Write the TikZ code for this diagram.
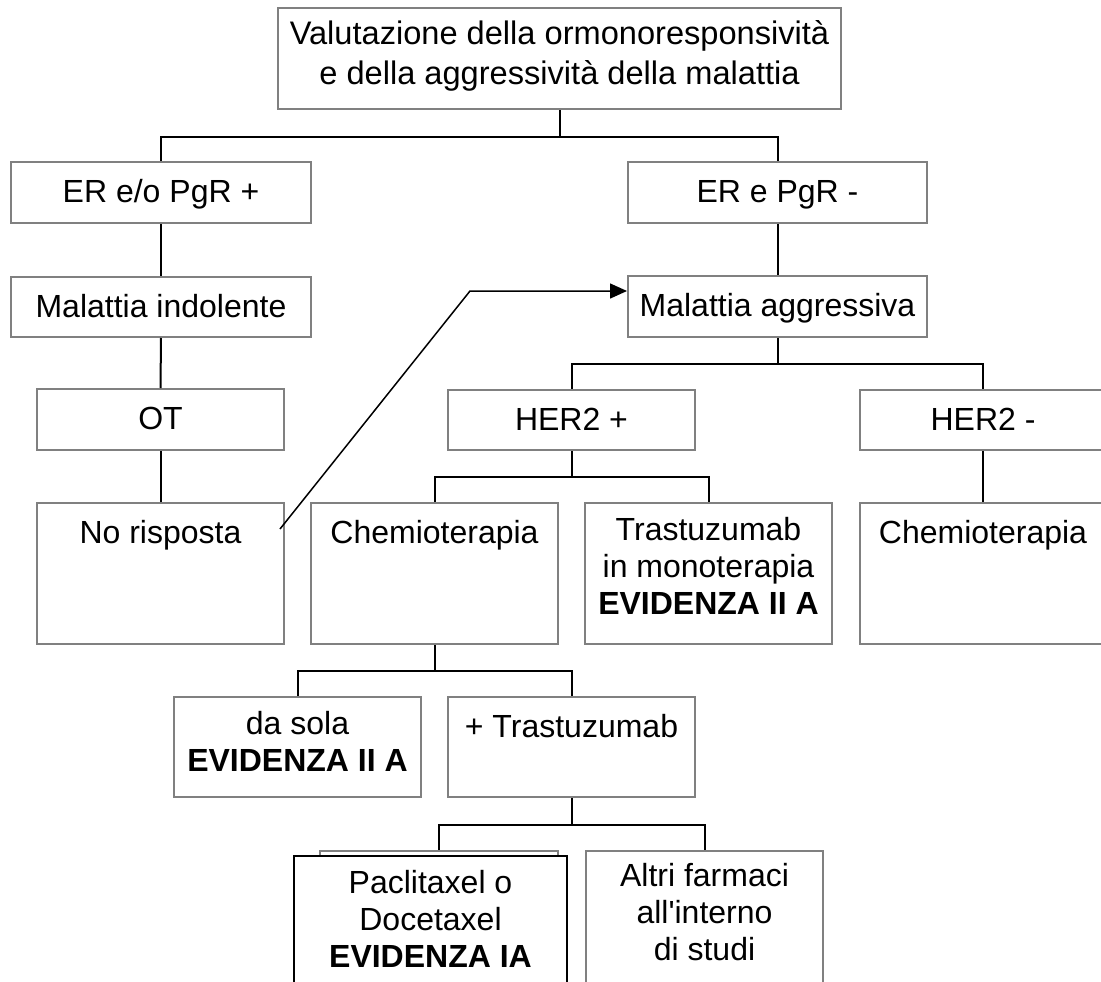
\documentclass[tikz,border=0pt]{standalone}
\usepackage{fontspec}
\newfontfamily\flowfont{Liberation Sans}
\usetikzlibrary{positioning,arrows.meta}
\definecolor{boxgray}{RGB}{128,128,128}

% box by corners: [options]{name}{left}{top}{right}{bottom}
\newcommand{\flowbox}[6][]{%
  \node[box,minimum width={#5-#3},minimum height={#6-#4},#1] (#2) at ({(#3+#5)/2},{(#4+#6)/2}) {};}
% text hanging from the top edge of a box: [gap]{box}{text}
\newcommand{\flowtext}[3][15pt]{%
  \node[txt,below=#1 of #2.north] (#2-t) {#3};}

\begin{document}
\begin{tikzpicture}[x=1pt,y=-1pt,
  box/.style={rectangle,draw=boxgray,line width=2pt,fill=white,inner sep=0pt},
  darkbox/.style={draw=black},
  txt/.style={inner sep=0pt,align=center,anchor=north,
    font=\flowfont\fontsize{32}{37}\selectfont,execute at begin node=\strut},
  headtxt/.style={font=\flowfont\fontsize{32.6}{40}\selectfont},
  wire/.style={draw=black,line width=2pt},
  jump/.style={draw=black,line width=1.5pt,-{Triangle[length=17pt,width=15pt]}},
]
\useasboundingbox (0,0) rectangle (1101,982);
\clip (0,0) rectangle (1101,982);
\fill[white] (0,0) rectangle (1101,982);

% boxes
\flowbox{top}{278}{8}{841}{109}
\flowbox{erp}{11}{162}{311}{223}
\flowbox{erm}{628}{162}{927}{223}
\flowbox{malind}{11}{277}{311}{337}
\flowbox{malagg}{628}{276}{927}{337}
\flowbox{ot}{37}{389}{284}{450}
\flowbox{norisp}{37}{503}{284}{644}
\flowbox{herp}{448}{390}{695}{450}
\flowbox{herm}{860}{390}{1106}{450}
\flowbox{chemioA}{311}{503}{558}{644}
\flowbox{trast}{585}{503}{832}{644}
\flowbox{chemioB}{860}{503}{1106}{644}
\flowbox{dasola}{174}{697}{421}{797}
\flowbox{plustrast}{448}{697}{695}{797}
\flowbox{pacliback}{320}{851}{558}{1000}
\flowbox[darkbox]{pacli}{294}{856}{567}{1005}
\flowbox{altri}{586}{851}{823}{1005}

% texts
\node[txt,headtxt,below=13pt of top.north] (top-t)
  {Valutazione della ormonoresponsività\\e della aggressività della malattia};
\flowtext{erp}{ER e/o PgR +}
\flowtext{erm}{ER e PgR -}
\flowtext{malind}{Malattia indolente}
\flowtext{malagg}{Malattia aggressiva}
\flowtext{ot}{OT}
\flowtext{norisp}{No risposta}
\flowtext{herp}{HER2 +}
\flowtext{herm}{HER2 -}
\flowtext{chemioA}{Chemioterapia}
\flowtext{trast}{Trastuzumab\\in monoterapia\\\textbf{EVIDENZA II A}}
\flowtext{chemioB}{Chemioterapia}
\flowtext{dasola}{da sola\\\textbf{EVIDENZA II A}}
\flowtext{plustrast}{+ Trastuzumab}
\flowtext[15.5pt]{pacli}{Paclitaxel o\\Docetaxel\\\textbf{EVIDENZA IA}}
\flowtext[13.5pt]{altri}{Altri farmaci\\all'interno\\di studi}

% tree connectors
\draw[wire] (top.south) -- ++(0,27) -| (erp.north);
\draw[wire] (top.south) -- ++(0,27) -| (erm.north);
\draw[wire] (erp.south) -- (malind.north);
\draw[wire] (malind.south) -- (ot.north);
\draw[wire] (ot.south) -- (norisp.north);
\draw[wire] (erm.south) -- (malagg.north);
\draw[wire] (malagg.south) -- ++(0,26) -| (herp.north);
\draw[wire] (malagg.south) -- ++(0,26) -| (herm.north);
\draw[wire] (herp.south) -- ++(0,26) -| (chemioA.north);
\draw[wire] (herp.south) -- ++(0,26) -| (trast.north);
\draw[wire] (herm.south) -- (chemioB.north);
\draw[wire] (chemioA.south) -- ++(0,26) -| (dasola.north);
\draw[wire] (chemioA.south) -- ++(0,26) -| (plustrast.north);
\draw[wire] (plustrast.south) -- ++(0,27) -| (pacliback.north);
\draw[wire] (plustrast.south) -- ++(0,27) -| (altri.north);

% loop back from "No risposta" to "Malattia aggressiva"
\coordinate (jumpstart) at ([xshift=-5pt,yshift=-27pt]norisp.north east);
\coordinate (jumpbend) at (470,291);
\draw[jump] (jumpstart) -- (jumpbend) -- ([yshift=15.5pt]malagg.west);
\end{tikzpicture}
\end{document}
